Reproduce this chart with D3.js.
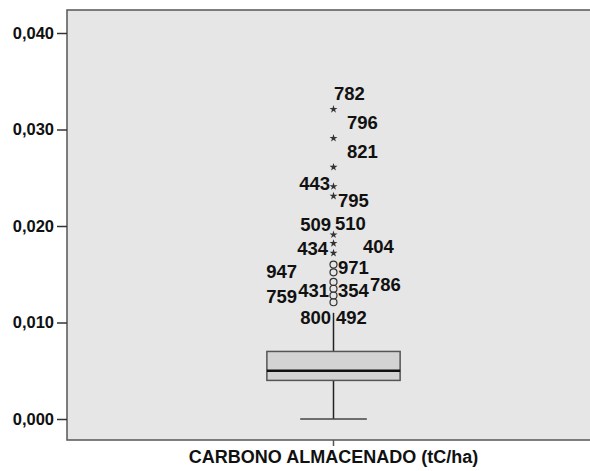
<!DOCTYPE html>
<html>
<head>
<meta charset="utf-8">
<script src="https://cdn.jsdelivr.net/npm/d3@7"></script>
<style>
  body { margin: 0; background: #fff; }
  text { font-family: "Liberation Sans", Arial, sans-serif; font-weight: bold; fill: #111; }
</style>
</head>
<body>
<svg id="chart" width="590" height="471"></svg>
<script>
// data
const categories = ["CARBONO ALMACENADO (tC/ha)"];
const boxQ1 = [0.004];
const boxMedian = [0.005];
const boxQ3 = [0.007];
const whiskerLow = [0.000];
const whiskerHigh = [0.011];
const yTicks = [0, 0.01, 0.02, 0.03, 0.04];

// extreme cases (stars) and outliers (circles)
const extremeValues = [0.0321, 0.0291, 0.0261, 0.0241, 0.0231, 0.0191, 0.0182, 0.0172];
const outlierValues = [0.0160, 0.0152, 0.0142, 0.0135, 0.0128, 0.0121];

// case ids shown next to the markers, with the value level they sit at
const caseIds    = ["782", "796", "821", "443", "795", "509", "510", "434", "404", "947", "971", "786", "759", "431", "354", "800", "492"];
const caseLevels = [0.03375, 0.0307, 0.0277, 0.02442, 0.02269, 0.02018, 0.02028, 0.01769, 0.01785, 0.01526, 0.01572, 0.01396, 0.01275, 0.01337, 0.01337, 0.01054, 0.0105];
// label offsets from the box centre (layout, not data)
const caseDx = [0.5, 13.5, 13.5, -3.5, 4.5, -2.5, 1.5, -5.5, 29.5, -36.5, 4.5, 36.5, -36.5, -4.5, 4.5, -2.5, 2.5];

const svg = d3.select("#chart");
const frame = {left: 67, right: 600, top: 10, bottom: 440};

const x = d3.scaleBand().domain(categories).range([frame.left, frame.right]);
const y = d3.scaleLinear().domain([0, 0.04]).range([419, 33]);

// plot background
svg.append("rect")
    .attr("x", frame.left).attr("y", frame.top)
    .attr("width", frame.right - frame.left).attr("height", frame.bottom - frame.top)
    .attr("fill", "#e6e6e6").attr("stroke", "#555").attr("stroke-width", 1.5);

// y axis
const fmt = d3.format(".3f");
const yAxis = svg.append("g")
    .attr("transform", "translate(" + frame.left + ",0)")
    .call(d3.axisLeft(y).tickValues(yTicks).tickSize(10).tickPadding(3)
      .tickFormat(d => fmt(d).replace(".", ",")));
yAxis.select(".domain").remove();
yAxis.selectAll(".tick line").attr("stroke", "#333").attr("stroke-width", 1.5);
yAxis.selectAll("text").style("font-size", "16.5px").style("font-family", "'Liberation Sans', Arial, sans-serif").attr("fill", "#111");

// x axis
const xAxis = svg.append("g")
    .attr("transform", "translate(0," + frame.bottom + ")")
    .call(d3.axisBottom(x).tickSize(6).tickPadding(4));
xAxis.select(".domain").remove();
xAxis.selectAll(".tick line").attr("stroke", "#555").attr("stroke-width", 1.5);
xAxis.selectAll("text").style("font-size", "18px").style("font-family", "'Liberation Sans', Arial, sans-serif").attr("fill", "#111");

const bw = x.bandwidth();
const boxW = bw * 0.25;

categories.forEach((c, i) => {
  const cx = x(c) + bw / 2;
  const g = svg.append("g");

  // whiskers
  g.append("line").attr("x1", cx).attr("x2", cx)
      .attr("y1", y(whiskerLow[i])).attr("y2", y(boxQ1[i]))
      .attr("stroke", "#222").attr("stroke-width", 1.5);
  g.append("line").attr("x1", cx).attr("x2", cx)
      .attr("y1", y(boxQ3[i])).attr("y2", y(whiskerHigh[i]))
      .attr("stroke", "#222").attr("stroke-width", 1.5);
  g.append("line").attr("x1", cx - boxW / 4).attr("x2", cx + boxW / 4)
      .attr("y1", y(whiskerLow[i])).attr("y2", y(whiskerLow[i]))
      .attr("stroke", "#444").attr("stroke-width", 1.5);

  // box
  g.append("rect")
      .attr("x", cx - boxW / 2).attr("width", boxW)
      .attr("y", y(boxQ3[i])).attr("height", y(boxQ1[i]) - y(boxQ3[i]))
      .attr("fill", "#d3d3d3").attr("stroke", "#555").attr("stroke-width", 1.5);
  g.append("line").attr("x1", cx - boxW / 2).attr("x2", cx + boxW / 2)
      .attr("y1", y(boxMedian[i])).attr("y2", y(boxMedian[i]))
      .attr("stroke", "#111").attr("stroke-width", 2.5);

  // outliers
  g.selectAll("circle.out").data(outlierValues).enter().append("circle")
      .attr("class", "out")
      .attr("cx", cx).attr("cy", d => y(d)).attr("r", 3.5)
      .attr("fill", "none").attr("stroke", "#333").attr("stroke-width", 1.2);

  // extremes
  g.selectAll("path.ext").data(extremeValues).enter().append("path")
      .attr("class", "ext")
      .attr("transform", d => "translate(" + cx + "," + y(d) + ")")
      .attr("d", d3.symbol().type(d3.symbolStar).size(20))
      .attr("fill", "#333");

  // case labels
  g.selectAll("text.case").data(caseIds).enter().append("text")
      .attr("class", "case")
      .attr("x", (d, j) => cx + caseDx[j])
      .attr("y", (d, j) => y(caseLevels[j]))
      .attr("dy", "0.36em")
      .attr("text-anchor", (d, j) => caseDx[j] < 0 ? "end" : "start")
      .style("font-size", "18.5px")
      .text(d => d);
});
</script>
</body>
</html>
